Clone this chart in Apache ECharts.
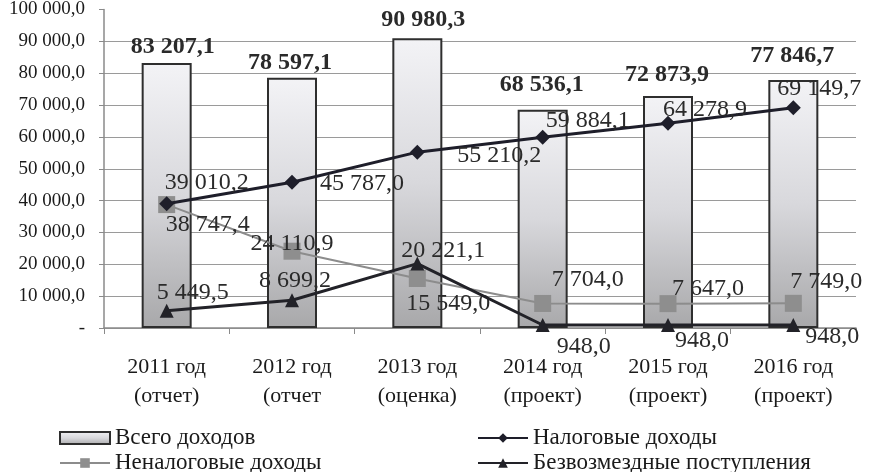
<!DOCTYPE html>
<html>
<head>
<meta charset="utf-8">
<script src="https://cdn.jsdelivr.net/npm/echarts@6/dist/echarts.min.js"></script>
<style>
  html, body { margin: 0; padding: 0; background: #fff; }
  #chart { width: 876px; height: 472px; }
</style>
</head>
<body>
<div id="chart"></div>
<script>
// данные
const categories = ['2011 год\n(отчет)', '2012 год\n(отчет', '2013 год\n(оценка)', '2014 год\n(проект)', '2015 год\n(проект)', '2016 год\n(проект)']
const totalIncome = [83207.1, 78597.1, 90980.3, 68536.1, 72873.9, 77846.7]
const taxIncome = [39010.2, 45787.0, 55210.2, 59884.1, 64278.9, 69149.7]
const nonTaxIncome = [38747.4, 24110.9, 15549.0, 7704.0, 7647.0, 7749.0]
const grants = [5449.5, 8699.2, 20221.1, 948.0, 948.0, 948.0]
const yMax = 100000
const yStep = 10000

// смещения подписей (px от точки)
const totalLabelShift = [[6, -4], [-2, -3], [6, -6], [-1, -13], [-1, -9], [-1, -12]]
const taxLabelShift = [[40, -21], [70, 2], [82, 4], [45, -17], [37, -14], [26, -19]]
const nonTaxLabelShift = [[41, 20], [0, -8], [31, 25], [45, -24], [40, -15], [33, -22]]
const grantsLabelShift = [[26, -18], [3, -20], [26, -13], [41, 22], [34, 16], [39, 12]]

const FONT = '"Liberation Serif", "DejaVu Serif", serif'

const fmt = (v) => {
  const parts = v.toFixed(1).split('.')
  return parts[0].replace(/\B(?=(\d{3})+(?!\d))/g, ' ') + ',' + parts[1]
}

const withShift = (values, shifts) =>
  values.map((v, i) => ({ value: v, label: { offset: shifts[i] } }))

const lineLabel = {
  show: true,
  position: 'inside',
  fontFamily: FONT,
  fontSize: 24,
  color: '#2a2a2a',
  formatter: (p) => fmt(p.value)
}

// одна запись легенды
const legendItem = (item, left, top) => ({
  left: left,
  top: top,
  itemWidth: 50,
  itemHeight: 12,
  data: [item],
  textStyle: { fontFamily: FONT, fontSize: 23, lineHeight: 24, color: '#1a1a1a' }
})

const chart = echarts.init(document.getElementById('chart'))

const option = {
  backgroundColor: '#fff',
  animation: false,
  grid: { left: 104, right: 20, top: 9, bottom: 144 },
  legend: [
    legendItem({ name: 'Всего доходов', icon: 'rect' }, 54, 421),
    legendItem('Неналоговые доходы', 54, 446),
    legendItem('Налоговые доходы', 472, 421),
    legendItem('Безвозмездные поступления', 472, 446)
  ],
  xAxis: {
    type: 'category',
    data: categories,
    axisLine: { lineStyle: { color: '#8a8a8a', width: 1.5 } },
    axisTick: { show: true, length: 6, lineStyle: { color: '#8a8a8a' } },
    axisLabel: {
      fontFamily: FONT,
      fontSize: 22,
      color: '#1a1a1a',
      lineHeight: 29,
      margin: 25,
      interval: 0
    }
  },
  yAxis: {
    type: 'value',
    min: 0,
    max: yMax,
    interval: yStep,
    axisLine: { show: true, lineStyle: { color: '#8a8a8a', width: 1.5 } },
    axisTick: { show: true, length: 5, lineStyle: { color: '#8a8a8a' } },
    splitLine: { show: true, showMaxLine: false, lineStyle: { color: '#9a9a9a', width: 1.2 } },
    axisLabel: {
      fontFamily: FONT,
      fontSize: 19,
      color: '#1a1a1a',
      margin: 19,
      formatter: (v) => (v === 0 ? '-' : fmt(v))
    }
  },
  series: [
    {
      name: 'Всего доходов',
      type: 'bar',
      barWidth: 50,
      data: withShift(totalIncome, totalLabelShift),
      itemStyle: {
        color: new echarts.graphic.LinearGradient(0, 0, 0, 1, [
          { offset: 0, color: '#f3f3f6' },
          { offset: 0.5, color: '#d8d8dc' },
          { offset: 1, color: '#a8a8aa' }
        ]),
        borderColor: '#2e2e2e',
        borderWidth: 2
      },
      label: {
        show: true,
        position: 'top',
        distance: 0,
        lineHeight: 24,
        fontFamily: FONT,
        fontSize: 24,
        fontWeight: 'bold',
        color: '#2a2a2a',
        formatter: (p) => fmt(p.value)
      },
      z: 1
    },
    {
      name: 'Налоговые доходы',
      type: 'line',
      data: withShift(taxIncome, taxLabelShift),
      symbol: 'diamond',
      symbolSize: 15,
      lineStyle: { color: '#1e1e2a', width: 3 },
      itemStyle: { color: '#1e1e2a' },
      label: lineLabel,
      z: 4
    },
    {
      name: 'Неналоговые доходы',
      type: 'line',
      data: withShift(nonTaxIncome, nonTaxLabelShift),
      symbol: 'rect',
      symbolSize: 17,
      lineStyle: { color: '#8c8c8c', width: 2 },
      itemStyle: { color: '#8e8e8e' },
      label: lineLabel,
      z: 3
    },
    {
      name: 'Безвозмездные поступления',
      type: 'line',
      data: withShift(grants, grantsLabelShift),
      symbol: 'triangle',
      symbolSize: 14,
      lineStyle: { color: '#222228', width: 3 },
      itemStyle: { color: '#222228' },
      label: lineLabel,
      z: 4
    }
  ]
}

chart.setOption(option)
</script>
</body>
</html>
